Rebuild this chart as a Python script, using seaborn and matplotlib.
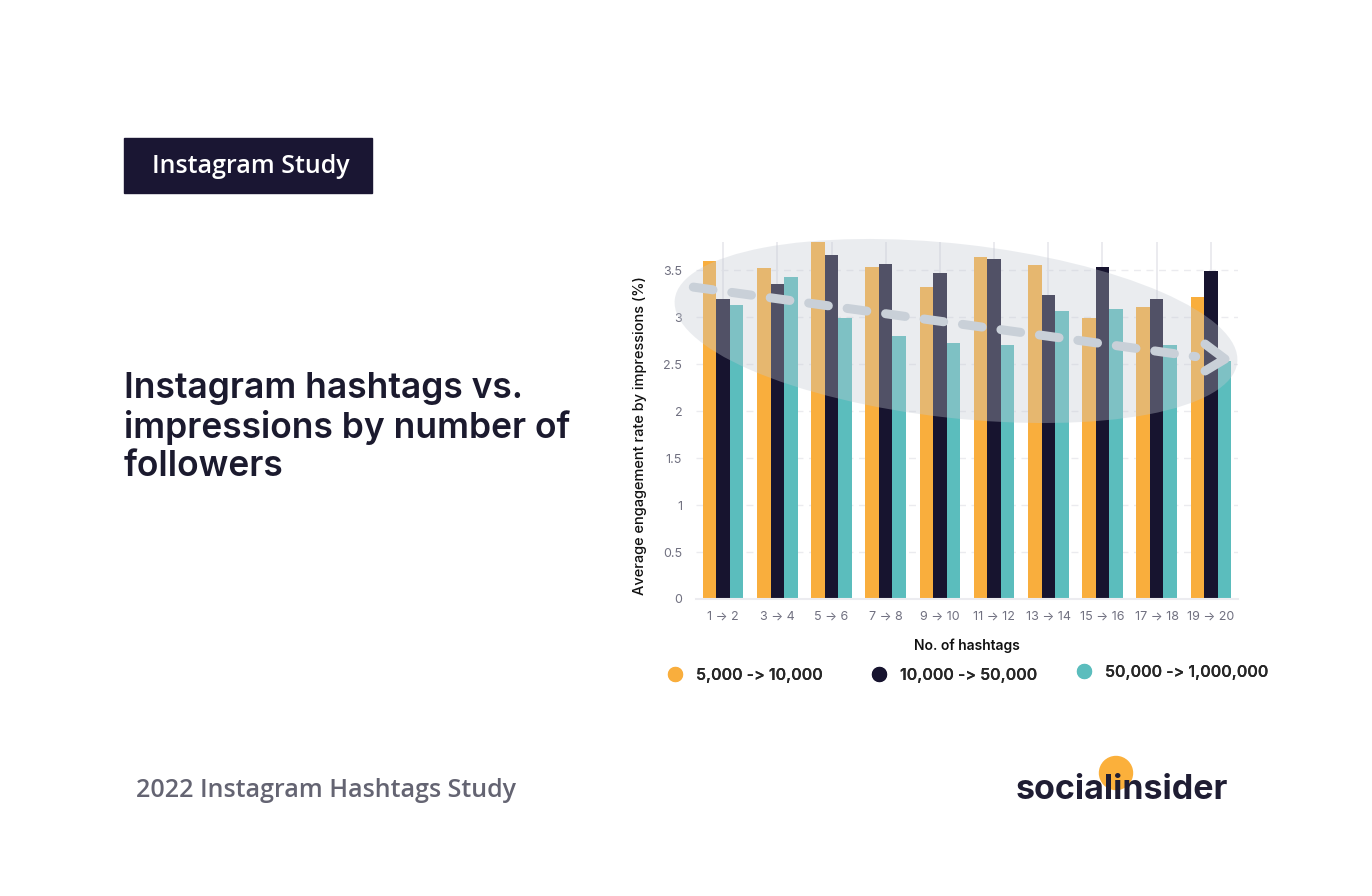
import numpy as np
import pandas as pd
import matplotlib.pyplot as plt
import seaborn as sns
from matplotlib.patches import Ellipse, Rectangle, Circle
from matplotlib.lines import Line2D

# данные
hashtags = ["1 → 2", "3 → 4", "5 → 6", "7 → 8", "9 → 10",
            "11 → 12", "13 → 14", "15 → 16", "17 → 18", "19 → 20"]
followers = ["5,000 -> 10,000", "10,000 -> 50,000", "50,000 -> 1,000,000"]
small = [3.60, 3.52, 3.80, 3.53, 3.32, 3.64, 3.56, 2.99, 3.11, 3.21]
medium = [3.19, 3.35, 3.66, 3.57, 3.47, 3.62, 3.24, 3.53, 3.19, 3.49]
large = [3.13, 3.43, 2.99, 2.80, 2.73, 2.70, 3.07, 3.09, 2.70, 2.53]
colors = ["#F9AE3D", "#17142F", "#5BBDBD"]
yticks = [0, 0.5, 1, 1.5, 2, 2.5, 3, 3.5]

df = pd.DataFrame({"hashtags": hashtags,
                   followers[0]: small,
                   followers[1]: medium,
                   followers[2]: large})
df = df.melt(id_vars="hashtags", var_name="followers", value_name="rate")

sns.set_theme(style="white")
plt.rcParams["font.family"] = ["Inter", "DejaVu Sans"]

fig = plt.figure(figsize=(13.72, 8.96), dpi=100)
ax = fig.add_axes([0.5073, 0.3315, 0.395, 0.3984])

sns.barplot(data=df, x="hashtags", y="rate", hue="followers",
            palette=colors, width=0.75, saturation=1, legend=False,
            linewidth=0, ax=ax, zorder=2)

ax.set_xlim(-0.5, 9.5)
ax.set_ylim(0, 3.8)
ax.set_yticks(yticks)
ax.set_yticklabels([f"{v:g}" for v in yticks])
ax.set_axisbelow(True)
ax.yaxis.grid(True, color="#ebebef", lw=1, ls=(0, (5, 4)))
ax.xaxis.grid(True, color="#e9e9ee", lw=1.3)
for s in ["left", "top", "right"]:
    ax.spines[s].set_visible(False)
ax.spines["bottom"].set_color("#ececf0")
ax.spines["bottom"].set_linewidth(1.5)
ax.tick_params(length=0, labelsize=9, labelcolor="#707080")
ax.tick_params(axis="x", pad=8)
ax.tick_params(axis="y", pad=10)
ax.set_xlabel("No. of hashtags", fontsize=10, fontweight="semibold",
              color="#111111", labelpad=12)
ax.set_ylabel("Average engagement rate by impressions (%)", fontsize=10.5,
              fontweight="medium", color="#111111")
ax.yaxis.set_label_coords(-0.09, 0.457)

# полупрозрачный овал поверх столбцов
ell = Ellipse((9.56, 5.65), width=5.66, height=1.74, angle=-6.4,
              transform=fig.dpi_scale_trans, facecolor="#C3C9D2",
              edgecolor="none", alpha=0.34, zorder=5, clip_on=False)
ax.add_patch(ell)

# пунктирная стрелка тренда
ax.plot([-0.55, 8.72], [3.32, 2.58], color="#C9D0D8", lw=6.5,
        dashes=(2.2, 2.1), dash_capstyle="round", zorder=6, clip_on=False)
chevron = Line2D([12.05, 12.25, 12.05], [5.52, 5.37, 5.25],
                 transform=fig.dpi_scale_trans, color="#C9D0D8", lw=6.5,
                 solid_capstyle="round", solid_joinstyle="round", zorder=6,
                 clip_on=False)
ax.add_line(chevron)

# легенда: три отдельные записи, как в оригинале
legend_x = [667, 871, 1076]
legend_y = [675, 675, 672]
for lab, c, lx, ly in zip(followers, colors, legend_x, legend_y):
    h = Line2D([], [], marker="o", ls="", markersize=10, color=c)
    fig.add_artist(fig.legend([h], [lab], loc="center left",
                              bbox_to_anchor=(lx / 1372, 1 - ly / 896),
                              frameon=False,
                              prop={"size": 11.5, "weight": "semibold"},
                              handletextpad=0.8, handlelength=1,
                              borderpad=0, borderaxespad=0))

# левая часть: плашка, заголовок, подпись
fig.add_artist(Rectangle((124 / 1372, 1 - 193 / 896), 248 / 1372, 55 / 896,
                         transform=fig.transFigure, color="#1A1633"))
fig.text(251 / 1372, 1 - 166 / 896, "Instagram Study", color="white",
         fontsize=18, fontweight="semibold", ha="center", va="center",
         family=["Open Sans", "DejaVu Sans"])
fig.text(124 / 1372, 1 - 372 / 896,
         "Instagram hashtags vs.\nimpressions by number of\nfollowers",
         fontsize=25.5, fontweight="semibold", color="#1B1A2E",
         ha="left", va="top", linespacing=1.18)
fig.text(136 / 1372, 1 - 790 / 896, "2022 Instagram Hashtags Study",
         fontsize=18, fontweight="semibold", color="#646472",
         ha="left", va="center", family=["Open Sans", "DejaVu Sans"])

# логотип
fig.add_artist(Circle((11.16, 8.96 - 7.73), 0.165,
                      transform=fig.dpi_scale_trans, color="#FBB03B",
                      zorder=2))
fig.text(1016 / 1372, 1 - 799 / 896, "socialinsider", fontsize=24.5,
         fontweight="bold", color="#1F1D33", ha="left", va="baseline",
         zorder=3)

fig.savefig("out.png", dpi=100)
